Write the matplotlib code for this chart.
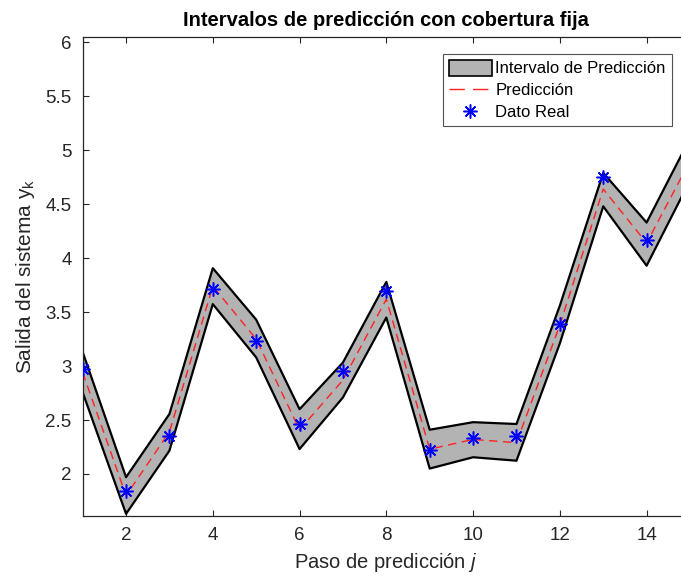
import matplotlib
matplotlib.use("Agg")
import matplotlib.pyplot as plt
from matplotlib.patches import Patch
from matplotlib.lines import Line2D

plt.rcParams['font.family'] = ['Liberation Sans', 'DejaVu Sans']
plt.rcParams['mathtext.fontset'] = 'custom'
plt.rcParams['mathtext.rm'] = 'Liberation Sans'
plt.rcParams['mathtext.it'] = 'Liberation Sans:italic'

steps = [1, 2, 3, 4, 5, 6, 7, 8, 9, 10, 11, 12, 13, 14, 15]
upper = [3.13, 1.97, 2.556, 3.907, 3.43, 2.60, 3.033, 3.78, 2.41, 2.48, 2.463, 3.56, 4.79, 4.33, 5.11]
lower = [2.756, 1.63, 2.216, 3.574, 3.08, 2.231, 2.709, 3.45, 2.05, 2.155, 2.123, 3.21, 4.48, 3.93, 4.72]
pred = [2.94, 1.80, 2.39, 3.74, 3.25, 2.41, 2.87, 3.62, 2.23, 2.32, 2.29, 3.38, 4.64, 4.14, 4.90]
real = [2.97, 1.84, 2.35, 3.71, 3.23, 2.46, 2.95, 3.70, 2.22, 2.33, 2.35, 3.39, 4.75, 4.17, 4.86]

fig = plt.figure(figsize=(6.81, 5.78), dpi=100)
ax = fig.add_axes([0.1214, 0.1081, 0.8918, 0.828])

gray = '#262626'
asterisk = (8, 2, 0)
ax.fill_between(steps, lower, upper, facecolor='#b3b3b3', edgecolor='none', zorder=1)
ax.plot(steps, upper, color='black', lw=1.6, zorder=2)
ax.plot(steps, lower, color='black', lw=1.6, zorder=2)
ax.plot(steps, pred, color='#ff2020', lw=1.0, dashes=(6, 4), zorder=3)
ax.plot(steps, real, linestyle='none', marker=asterisk, color='blue', ms=10, mew=1.1, zorder=4)

ax.set_xlim(1, 15)
ax.set_ylim(1.615, 6.05)
ax.set_xticks([2, 4, 6, 8, 10, 12, 14])
ax.set_yticks([2, 2.5, 3, 3.5, 4, 4.5, 5, 5.5, 6])
ax.set_yticklabels(['2', '2.5', '3', '3.5', '4', '4.5', '5', '5.5', '6'])
ax.tick_params(direction='in', top=True, right=True, length=4, width=0.8,
               colors=gray, labelsize=13.5, pad=8)
for sp in ax.spines.values():
    sp.set_color(gray)
    sp.set_linewidth(0.9)

ax.set_title('Intervalos de predicción con cobertura fija', fontsize=14.5,
             fontweight='bold', color='black', pad=8)
ax.set_xlabel('Paso de predicción $j$', fontsize=14.5, color=gray, labelpad=5)
ax.set_ylabel('Salida del sistema $\\mathregular{y_k}$', fontsize=15, color=gray, labelpad=6)

handles = [Patch(facecolor='#b3b3b3', edgecolor='black', lw=1.2),
           Line2D([], [], color='#ff2020', lw=1.0, dashes=(11, 6)),
           Line2D([], [], linestyle='none', marker=asterisk, color='blue', ms=10, mew=1.1)]
labels = ['Intervalo de Predicción', 'Predicción', 'Dato Real']
leg = ax.legend(handles, labels, loc='upper left', bbox_to_anchor=(0.593, 0.9645),
                fontsize=12, frameon=True, fancybox=False, edgecolor=gray,
                borderpad=0.35, labelspacing=0.32, handlelength=2.6, handleheight=1.1,
                handletextpad=0.2, borderaxespad=0)
leg.get_frame().set_linewidth(0.8)

fig.savefig('out.png', dpi=100)
